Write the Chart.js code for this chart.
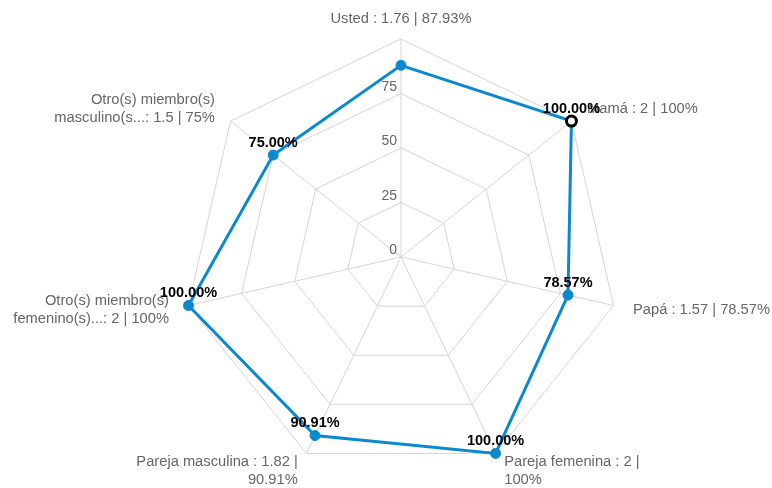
<!DOCTYPE html>
<html>
<head>
<meta charset="utf-8">
<script src="https://cdn.jsdelivr.net/npm/chart.js@4.4.1/dist/chart.umd.min.js"></script>
<style>
  html, body { margin: 0; padding: 0; background: #ffffff; }
  #wrap { width: 772px; height: 488px; position: relative; }
</style>
</head>
<body>
<div id="wrap"><canvas id="c" width="772" height="488"></canvas></div>
<script>
// ---- data ----
const categories = ['Usted', 'Mamá', 'Papá', 'Pareja femenina', 'Pareja masculina', 'Otro(s) miembro(s) femenino(s)', 'Otro(s) miembro(s) masculino(s)'];
const axisLabels = [
  ['Usted : 1.76 | 87.93%'],
  ['Mamá : 2 | 100%'],
  ['Papá : 1.57 | 78.57%'],
  ['Pareja femenina : 2 |', '100%'],
  ['Pareja masculina : 1.82 |', '90.91%'],
  ['Otro(s) miembro(s)', 'femenino(s)...: 2 | 100%'],
  ['Otro(s) miembro(s)', 'masculino(s...: 1.5 | 75%']
];
const averages = [1.76, 2, 1.57, 2, 1.82, 2, 1.5];
const percentages = [87.93, 100, 78.57, 100, 90.91, 100, 75];
const tickValues = [0, 25, 50, 75];
const valueLabelHidden = ['Usted'];
const highlighted = 'Mamá';

// ---- styles ----
const FONT = "'Liberation Sans', Arial, sans-serif";
const BLUE = '#0a89d1';
const hi = categories.indexOf(highlighted);

const labelPlugin = {
  id: 'customLabels',
  beforeDatasetsDraw(chart) {
    const r = chart.scales.r;
    const ctx = chart.ctx;
    ctx.save();
    // tick labels
    ctx.font = '14px ' + FONT;
    ctx.fillStyle = '#666666';
    ctx.textAlign = 'right';
    ctx.textBaseline = 'alphabetic';
    tickValues.forEach(v => {
      const d = r.getDistanceFromCenterForValue(v);
      ctx.fillText(String(v), r.xCenter - 4, r.yCenter - d - 3);
    });
    // point labels
    ctx.font = '14.7px ' + FONT;
    ctx.textBaseline = 'middle';
    const lh = 18;
    axisLabels.forEach((lines, i) => {
      const p = r.getPointPosition(i, r.drawingArea + 20);
      const dx = p.x - r.xCenter;
      ctx.textAlign = Math.abs(dx) < 2 ? 'center' : (dx > 0 ? 'left' : 'right');
      const y0 = p.y - (lines.length - 1) * lh / 2;
      lines.forEach((t, k) => ctx.fillText(t, p.x, y0 + k * lh));
    });
    ctx.restore();
  },
  afterDatasetsDraw(chart) {
    const meta = chart.getDatasetMeta(0);
    const ctx = chart.ctx;
    ctx.save();
    ctx.font = 'bold 14.5px ' + FONT;
    ctx.fillStyle = '#000000';
    ctx.textAlign = 'center';
    ctx.textBaseline = 'middle';
    meta.data.forEach((pt, i) => {
      if (valueLabelHidden.includes(categories[i])) return;
      ctx.fillText(percentages[i].toFixed(2) + '%', pt.x, pt.y - 12.5);
    });
    ctx.restore();
  }
};

new Chart(document.getElementById('c'), {
  type: 'radar',
  data: {
    labels: categories,
    datasets: [{
      data: percentages,
      borderColor: BLUE,
      borderWidth: 3,
      fill: false,
      backgroundColor: 'rgba(0,0,0,0)',
      pointBackgroundColor: categories.map((c, i) => i === hi ? '#ffffff' : BLUE),
      pointBorderColor: categories.map((c, i) => i === hi ? '#000000' : BLUE),
      pointBorderWidth: categories.map((c, i) => i === hi ? 3 : 1),
      pointRadius: categories.map((c, i) => i === hi ? 5 : 5),
      tension: 0
    }]
  },
  options: {
    responsive: false,
    animation: false,
    events: [],
    layout: { padding: { left: 30, right: 0, top: 39, bottom: 13 } },
    plugins: { legend: { display: false }, tooltip: { enabled: false } },
    scales: {
      r: {
        min: 0,
        max: 100,
        ticks: { display: false, stepSize: 25 },
        pointLabels: { display: false },
        grid: { color: '#d5d5d5', lineWidth: 1 },
        angleLines: { color: '#d5d5d5', lineWidth: 1 }
      }
    }
  },
  plugins: [labelPlugin]
});
</script>
</body>
</html>
